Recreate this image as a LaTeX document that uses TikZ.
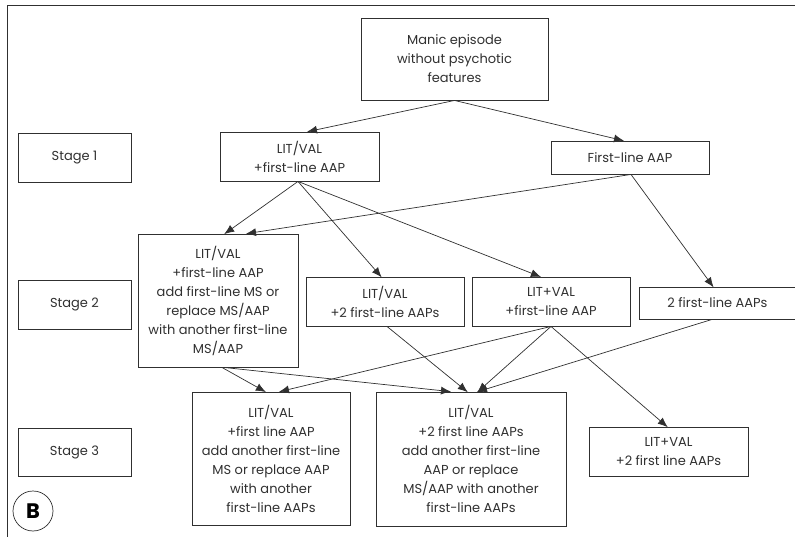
\documentclass[tikz,border=0pt]{standalone}
\usepackage{fontspec}
\setmainfont{Poppins}
\usetikzlibrary{arrows.meta}
\definecolor{ink}{HTML}{303030}
\begin{document}
\begin{tikzpicture}[x=1pt,y=-1pt,
  box/.style={draw=ink, line width=0.9pt, inner sep=0pt, align=center, text=ink,
    font=\fontsize{13}{19}\selectfont},
  arr/.style={draw=ink, line width=0.7pt, -{Latex[length=10pt,width=8pt]}, shorten >=-1pt}]
\useasboundingbox (0,0) rectangle (795,537);
\draw[ink, line width=0.9pt] (7,537) -- (7,5) -- (795,5);
\node[box, minimum width=187pt, minimum height=82pt] (manic) at (454.5,59) {Manic episode\\without psychotic\\features};
\node[box, minimum width=113pt, minimum height=49pt] (st1) at (74.5,157.5) {Stage 1};
\node[box, minimum width=159pt, minimum height=49pt] (s1a) at (299.5,156.5) {LIT/VAL\\+first-line AAP};
\node[box, minimum width=158pt, minimum height=33pt] (s1b) at (630,157.5) {First-line AAP};
\node[box, minimum width=113pt, minimum height=49pt] (st2) at (74.5,304.5) {Stage 2};
\node[box, minimum width=160pt, minimum height=133pt] (s2a) at (218,300.5) {LIT/VAL\\+first-line AAP\\add first-line MS or\\replace MS/AAP\\with another first-line\\MS/AAP};
\node[box, minimum width=158pt, minimum height=49pt] (s2b) at (385,301.5) {LIT/VAL\\+2 first-line AAPs};
\node[box, minimum width=158pt, minimum height=49pt] (s2c) at (551,301.5) {LIT+VAL\\+first-line AAP};
\node[box, minimum width=157pt, minimum height=32pt] (s2d) at (717.5,303) {2 first-line AAPs};
\node[box, minimum width=113pt, minimum height=48pt] (st3) at (74.5,452) {Stage 3};
\node[box, minimum width=158pt, minimum height=133pt] (s3a) at (271,458.5) {LIT/VAL\\+first line AAP\\add another first-line\\MS or replace AAP\\with another\\first-line AAPs};
\node[box, minimum width=190pt, minimum height=134pt] (s3b) at (471,459) {LIT/VAL\\+2 first line AAPs\\add another first-line\\AAP or replace\\MS/AAP with another\\first-line AAPs};
\node[box, minimum width=159pt, minimum height=49pt] (s3c) at (668.5,451.5) {LIT+VAL\\+2 first line AAPs};
\node[draw=ink, line width=0.7pt, circle, minimum size=40pt, inner sep=0pt, text=black, font=\fontsize{21}{21}\selectfont\bfseries] (lb) at (33,511) {B};
\draw[arr] (manic.south) -- ([xshift=8.5pt]s1a.north);
\draw[arr] (manic.south) -- ([xshift=-7pt]s1b.north);
\draw[arr] ([xshift=-1.5pt]s1a.south) -- ([xshift=7pt]s2a.north);
\draw[arr] ([xshift=1pt]s1b.south) -- ([xshift=29pt]s2a.north);
\draw[arr] ([xshift=-1.5pt]s1a.south) -- ([xshift=-4pt]s2b.north);
\draw[arr] ([xshift=-1.5pt]s1a.south) -- ([xshift=-11pt]s2c.north);
\draw[arr] ([xshift=1pt]s1b.south) -- ([xshift=-4.5pt]s2d.north);
\draw[arr] ([xshift=4pt]s2a.south) -- ([xshift=-6pt]s3a.north);
\draw[arr] ([xshift=6pt]s2a.south) -- ([xshift=-21pt]s3b.north);
\draw[arr] ([xshift=2pt]s2b.south) -- ([xshift=-4pt]s3b.north);
\draw[arr] (s2c.south) -- ([xshift=9pt]s3a.north);
\draw[arr] (s2c.south) -- ([xshift=7pt]s3b.north);
\draw[arr] ([xshift=-5.5pt]s2d.south) -- ([xshift=7pt]s3b.north);
\draw[arr] (s2c.south) -- ([xshift=-1.5pt]s3c.north);
\end{tikzpicture}
\end{document}
